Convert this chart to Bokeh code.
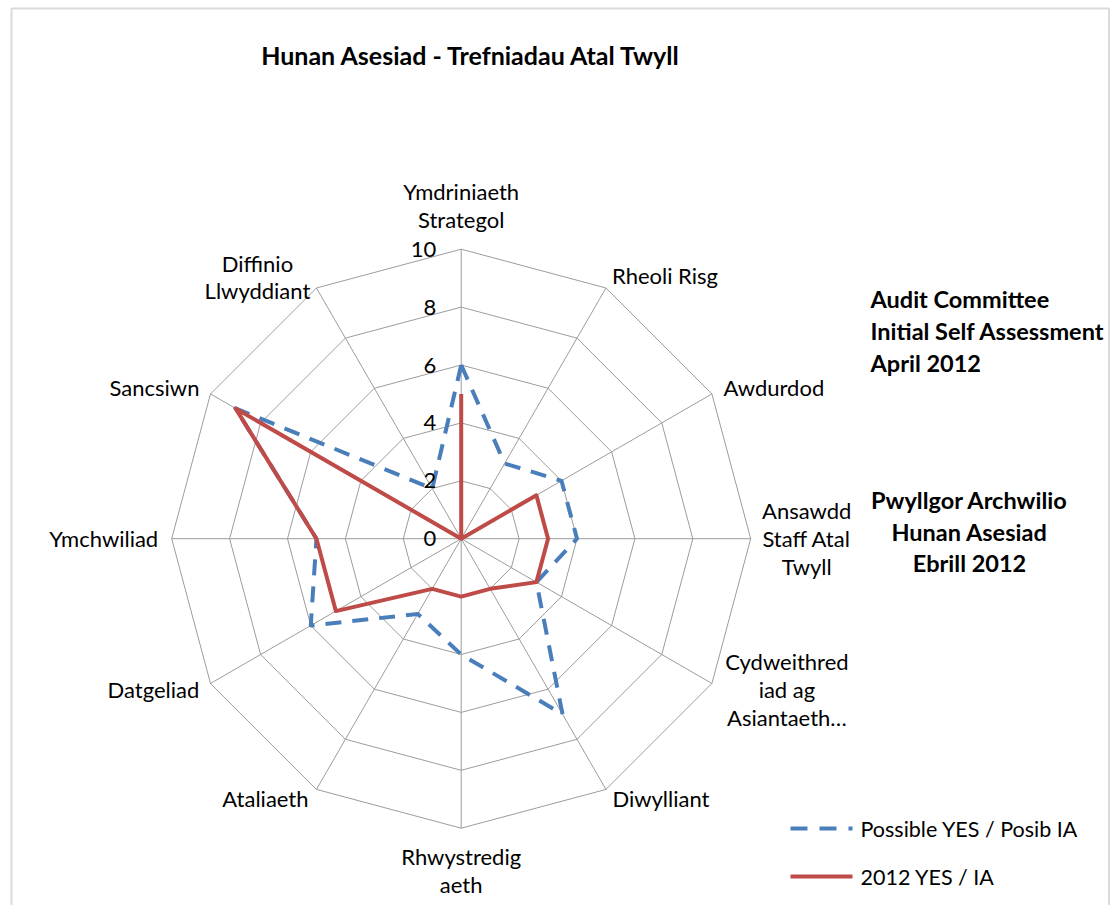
import math
from bokeh.plotting import figure
from bokeh.models import Range1d, BoxAnnotation
from bokeh.core.properties import value
from bokeh.embed import file_html
from bokeh.resources import INLINE

# ---------------- data ----------------
categories = [
    "Ymdriniaeth\nStrategol", "Rheoli Risg", "Awdurdod", "Ansawdd\nStaff Atal\nTwyll",
    "Cydweithred\niad ag\nAsiantaeth\u2026", "Diwylliant", "Rhwystredig\naeth", "Ataliaeth",
    "Datgeliad", "Ymchwiliad", "Sancsiwn", "Diffinio\nLlwyddiant",
]
possible_yes = [6, 3, 4, 4, 3, 7, 4, 3, 6, 5, 9, 2]
yes_2012 = [5, 0, 3, 3, 3, 2, 2, 2, 5, 5, 9, 0]
tick_values = [0, 2, 4, 6, 8, 10]
tick_labels = ["0", "2", "4", "6", "8", "10"]
series_names = ["Possible YES / Posib IA", "2012 YES / IA"]
title_text = "Hunan Asesiad - Trefniadau Atal Twyll"
note_en = ["Audit Committee", "Initial Self Assessment", "April 2012"]
note_cy = ["Pwyllgor Archwilio", "Hunan Asesiad", "Ebrill 2012"]

# ---------------- layout ----------------
W, H = 1110, 905
SCALE = 28.95            # px per value unit
CXP, CYP = 460.7, 538.2  # px of the centre
RMAX = 10

def dx(xp):
    return (xp - CXP) / SCALE

def dy(yp):
    return (CYP - yp) / SCALE

FONT = "Lato"
BLUE = "#4A7EBB"
RED = "#BE4B48"
GRID = "#9c9c9c"

p = figure(width=W, height=H, output_backend="svg", toolbar_location=None,
           x_range=Range1d(dx(0), dx(W)), y_range=Range1d(dy(H), dy(0)),
           min_border=0, min_border_left=0, min_border_right=0,
           min_border_top=0, min_border_bottom=0)
p.xaxis.visible = False
p.yaxis.visible = False
p.grid.visible = False
p.outline_line_color = None
p.background_fill_color = "white"
p.border_fill_color = "white"

n = len(categories)
angles = [2 * math.pi * i / n for i in range(n)]

def px(r, a):
    return r * math.sin(a)

def py(r, a):
    return r * math.cos(a)

# grid rings
ring_xs, ring_ys = [], []
for r in tick_values[1:]:
    ring_xs.append([px(r, a) for a in angles] + [px(r, angles[0])])
    ring_ys.append([py(r, a) for a in angles] + [py(r, angles[0])])
p.multi_line(ring_xs, ring_ys, line_color=GRID, line_width=1)
# spokes
p.multi_line([[0, px(RMAX, a)] for a in angles], [[0, py(RMAX, a)] for a in angles],
             line_color=GRID, line_width=1)

# series
bx = [px(v, a) for v, a in zip(possible_yes, angles)]
by = [py(v, a) for v, a in zip(possible_yes, angles)]
rx = [px(v, a) for v, a in zip(yes_2012, angles)]
ry = [py(v, a) for v, a in zip(yes_2012, angles)]
p.line(bx + bx[:1], by + by[:1], line_color=BLUE, line_width=4, line_dash="16 11",
       line_join="round")
p.line(rx + rx[:1], ry + ry[:1], line_color=RED, line_width=4, line_join="round")

LBL = "22px"
# radial tick labels
p.text([0] * len(tick_values), tick_values, text=tick_labels, x_offset=-25,
       text_align="right", text_baseline="middle", text_font=value(FONT),
       text_font_size=LBL, text_color="#000000")

# category labels (offsets from the outer vertex, in px)
label_off = [(0, -44), (59, -12), (62, -6), (56, 0), (75, 6), (55, 9),
             (0, 42), (-51, 9), (-57, 6), (-68, 0), (-56, -6), (-59, -11)]
p.text([px(RMAX, a) for a in angles], [py(RMAX, a) for a in angles], text=categories,
       x_offset=[o[0] for o in label_off], y_offset=[o[1] for o in label_off],
       text_align="center", text_baseline="middle", text_font=value(FONT),
       text_font_size=LBL, text_line_height=1.03, text_color="#000000")

# title
p.text([dx(471)], [dy(54)], text=[title_text], text_align="center", text_baseline="middle",
       text_font=value(FONT), text_font_size="25px", text_font_style="bold",
       text_color="#000000")

# annotations
NOTE = "23.5px"
p.text([dx(870)] * 3, [dy(298), dy(330), dy(362)], text=note_en, text_align="left",
       text_baseline="middle", text_font=value(FONT), text_font_size=NOTE,
       text_font_style="bold", text_color="#000000")
p.text([dx(969)] * 3, [dy(499), dy(531), dy(562)], text=note_cy, text_align="center",
       text_baseline="middle", text_font=value(FONT), text_font_size=NOTE,
       text_font_style="bold", text_color="#000000")

# legend (manual)
p.line([dx(790), dx(852)], [dy(828), dy(828)], line_color=BLUE, line_width=4,
       line_dash="17 12")
p.line([dx(790), dx(852)], [dy(876), dy(876)], line_color=RED, line_width=4)
p.text([dx(860), dx(860)], [dy(828), dy(876)], text=series_names, text_align="left",
       text_baseline="middle", text_font=value(FONT), text_font_size="21.5px",
       text_color="#000000")

# chart border
p.add_layout(BoxAnnotation(left=dx(11), right=dx(1108.5), top=dy(8), bottom=dy(940),
                           fill_alpha=0, line_color="#878787", line_width=2))

open("out.html", "w").write(file_html(p, INLINE))
